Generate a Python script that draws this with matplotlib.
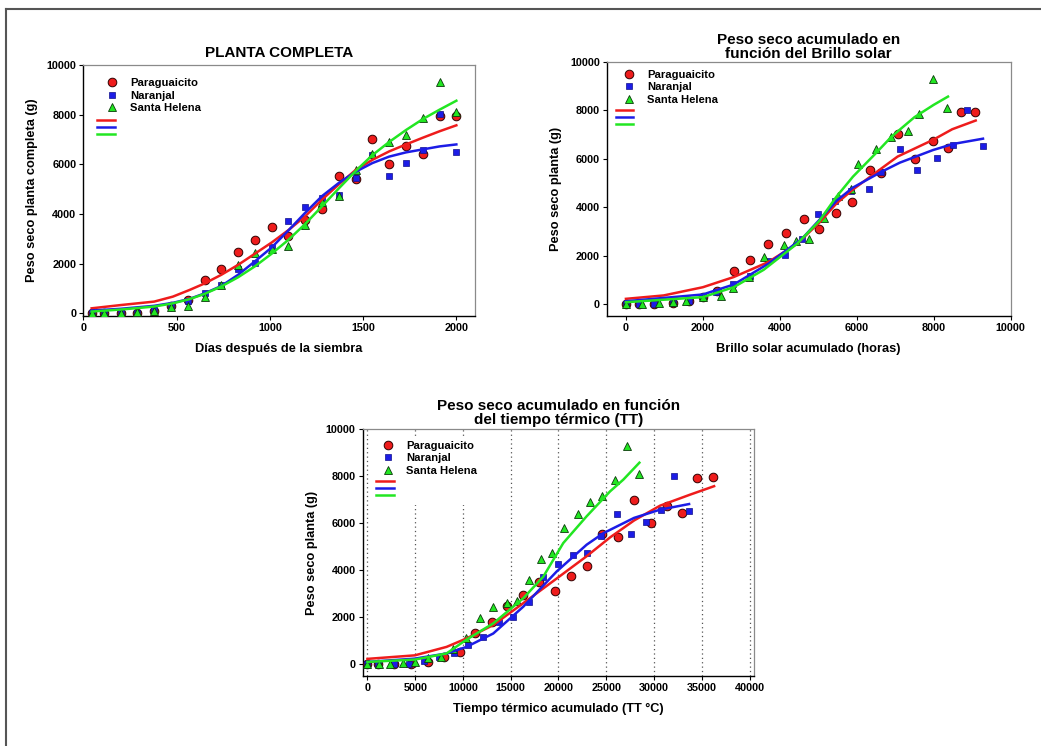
import numpy as np
import matplotlib
matplotlib.use('Agg')
from matplotlib import pyplot as plt
from matplotlib.lines import Line2D
from matplotlib.patches import Rectangle

plt.rcParams['font.family'] = ['Liberation Sans', 'DejaVu Sans']
plt.rcParams['font.weight'] = 'bold'

# Data section
names = ['Paraguaicito', 'Naranjal', 'Santa Helena']

# peso seco (g) per sampling, same measurements in the three panels
par_y = [0, 0, 10, 30, 100, 300, 520, 1350, 1800, 2480, 2950, 3490, 3100, 3750, 4200, 5540, 5420, 7010, 6000, 6750, 6430, 7930, 7950]
nar_y = [0, 0, 10, 30, 120, 300, 500, 810, 1150, 1780, 2020, 2670, 3730, 4270, 4660, 4750, 5460, 6390, 5530, 6040, 6560, 8020, 6510]
sh_y = [0, 0, 30, 70, 110, 270, 310, 650, 1120, 1950, 2430, 2590, 2700, 3570, 4470, 4740, 5780, 6400, 6910, 7160, 7860, 9300, 8110]

# dias despues de la siembra
days = [45, 110, 200, 290, 380, 470, 560, 650, 740, 830, 920, 1010, 1100, 1190, 1280, 1370, 1460, 1550, 1640, 1730, 1820, 1910, 2000]

# brillo solar acumulado (horas)
par_sol = [0, 330, 720, 1220, 1630, 2010, 2370, 2800, 3230, 3700, 4160, 4640, 5020, 5470, 5880, 6340, 6640, 7060, 7500, 7980, 8370, 8710, 9070]
nar_sol = [0, 330, 720, 1220, 1630, 2010, 2350, 2770, 3230, 3700, 4140, 4580, 4990, 5440, 5840, 6320, 6640, 7120, 7570, 8090, 8500, 8870, 9270]
sh_sol = [0, 420, 850, 1220, 1570, 1990, 2480, 2790, 3190, 3580, 4120, 4420, 4750, 5150, 5500, 5840, 6040, 6490, 6900, 7340, 7620, 7990, 8350]

# tiempo termico acumulado (TT C)
par_tt = [0, 1120, 2800, 4610, 6290, 8000, 9680, 11250, 12990, 14560, 16310, 17990, 19630, 21310, 22950, 24590, 26200, 27910, 29690, 31400, 32970, 34550, 36220]
nar_tt = [0, 1120, 2800, 4330, 5940, 7510, 9080, 10550, 12120, 13760, 15260, 16870, 18340, 19910, 21550, 22950, 24450, 26090, 27600, 29170, 30740, 32140, 33670]
sh_tt = [0, 1200, 2340, 3670, 4960, 6360, 7750, 9000, 10300, 11770, 13100, 14560, 15610, 16940, 18160, 19350, 20570, 22010, 23300, 24590, 25920, 27210, 28470]

# fitted curves
fit1_x = [45, 200, 380, 480, 570, 650, 740, 830, 920, 1010, 1100, 1190, 1280, 1370, 1460, 1550, 1640, 1730, 1820, 1910, 2000]
fit1_par = [200, 330, 470, 670, 940, 1200, 1550, 1950, 2400, 2850, 3350, 3910, 4580, 5190, 5770, 6180, 6520, 6800, 7070, 7330, 7570]
fit1_nar = [110, 180, 300, 420, 580, 800, 1100, 1550, 2090, 2650, 3340, 4050, 4720, 5250, 5700, 6050, 6310, 6480, 6600, 6720, 6800]
fit1_sh = [70, 150, 270, 400, 570, 780, 1080, 1450, 1890, 2400, 2960, 3600, 4310, 5030, 5730, 6370, 6900, 7380, 7820, 8200, 8560]

fit2_par_x = [0, 980, 2000, 2800, 3700, 4450, 5020, 5470, 5900, 6640, 7060, 7980, 8480, 9090]
fit2_par = [210, 350, 690, 1110, 1730, 2490, 3350, 4150, 4730, 5600, 6090, 6780, 7220, 7580]
fit2_nar_x = [0, 2000, 2800, 3700, 4580, 5020, 5470, 5900, 6640, 7120, 7980, 8500, 9280]
fit2_nar = [110, 390, 800, 1660, 2700, 3460, 4260, 4810, 5460, 5840, 6360, 6610, 6830]
fit2_sh_x = [0, 2000, 2800, 3580, 4450, 5020, 5470, 5900, 6490, 6900, 7500, 8000, 8370]
fit2_sh = [70, 280, 690, 1410, 2490, 3420, 4430, 5260, 6220, 6910, 7720, 8230, 8570]

fit3_par_x = [0, 4960, 8280, 10370, 13170, 16310, 19810, 22950, 25400, 27910, 30630, 33780, 36290]
fit3_par = [230, 380, 740, 1100, 1670, 2600, 3650, 4600, 5400, 6120, 6750, 7220, 7580]
fit3_nar_x = [0, 4960, 8280, 10370, 13170, 16310, 19810, 22950, 24700, 27910, 30630, 33670]
fit3_nar = [100, 240, 460, 740, 1310, 2450, 3950, 5090, 5580, 6230, 6580, 6820]
fit3_sh_x = [0, 4960, 8280, 10370, 13170, 16310, 18410, 20500, 22950, 25400, 26790, 28470]
fit3_sh = [100, 200, 460, 1050, 1740, 2810, 3730, 5160, 6300, 7360, 7860, 8580]

RED = '#ee1c1c'
BLUE = '#1c1ce6'
GREEN = '#22e622'
cols = [RED, BLUE, GREEN]
marks = [dict(marker='o', ms=6.2, mec='#300000', mew=0.7),
         dict(marker='s', ms=4.6, mec='#10108a', mew=0.5),
         dict(marker='^', ms=5.8, mec='#0a3a0a', mew=0.6)]

TICK_FS = 7.8
LAB_FS = 9.2
TITLE_FS = 11


def make_panel(ax, pts, fits, xlim, xticks, xlabel, ylabel, title, title_pad,
               leg_a, leg_b):
    for (x, y), c, m in zip(pts, cols, marks):
        ax.plot(x, y, ls='none', color=c, zorder=3, **m)
    for (x, y), c in zip(fits, cols):
        ax.plot(x, y, color=c, lw=1.8, zorder=4)
    ax.set_xlim(*xlim)
    ax.set_ylim(-500 if xlim[0] < 0 else -110, 10000)
    ax.set_xticks(xticks)
    ax.set_yticks(range(0, 10001, 2000))
    ax.tick_params(labelsize=TICK_FS, length=3, width=0.8, direction='out', pad=2)
    for lb in ax.get_xticklabels() + ax.get_yticklabels():
        lb.set_fontweight('bold')
    ax.set_xlabel(xlabel, fontsize=LAB_FS, fontweight='bold', labelpad=7)
    ax.set_ylabel(ylabel, fontsize=LAB_FS, fontweight='bold', labelpad=6)
    ax.set_title(title, fontsize=TITLE_FS, fontweight='bold', pad=title_pad, linespacing=1.0)
    for s in ['left', 'bottom']:
        ax.spines[s].set_color('black')
        ax.spines[s].set_linewidth(1.0)
    for s in ['top', 'right']:
        ax.spines[s].set_color('#8a8a8a')
        ax.spines[s].set_linewidth(0.9)

    hm = [Line2D([], [], ls='none', color=c, **m) for c, m in zip(cols, marks)]
    l1 = ax.legend(hm, names, loc='upper left', bbox_to_anchor=leg_a, frameon=False,
                   prop={'size': 8.1, 'weight': 'bold'}, handlelength=1.4,
                   handletextpad=0.9, labelspacing=0.22, borderpad=0, borderaxespad=0)
    ax.add_artist(l1)
    hl = [Line2D([], [], color=c, lw=1.8) for c in cols]
    ax.legend(hl, ['', '', ''], loc='upper left', bbox_to_anchor=leg_b, frameon=False,
              prop={'size': 4}, handlelength=3.2, handletextpad=0, labelspacing=0.35,
              borderpad=0, borderaxespad=0)


fig = plt.figure(figsize=(10.41, 7.46), dpi=100)

ax1 = fig.add_axes([0.080, 0.5764, 0.3763, 0.3365])
make_panel(ax1,
           [(days, par_y), (days, nar_y), (days, sh_y)],
           [(fit1_x, fit1_par), (fit1_x, fit1_nar), (fit1_x, fit1_sh)],
           (0, 2100), [0, 500, 1000, 1500, 2000],
           'Días después de la siembra', 'Peso seco planta completa (g)',
           'PLANTA COMPLETA', 6, (0.053, 0.948), (0.035, 0.789))

ax2 = fig.add_axes([0.5828, 0.5764, 0.3881, 0.3405])
make_panel(ax2,
           [(par_sol, par_y), (nar_sol, nar_y), (sh_sol, sh_y)],
           [(fit2_par_x, fit2_par), (fit2_nar_x, fit2_nar), (fit2_sh_x, fit2_sh)],
           (-500, 10000), range(0, 10001, 2000),
           'Brillo solar acumulado (horas)', 'Peso seco planta (g)',
           'Peso seco acumulado en\nfunción del Brillo solar', 3,
           (0.036, 0.969), (0.022, 0.820))

ax3 = fig.add_axes([0.3484, 0.0938, 0.3762, 0.3307])
ax3.grid(axis='x', ls=(0, (1, 2.5)), color='#555555', lw=0.9, zorder=1)
ax3.set_axisbelow(True)
ax3.add_patch(Rectangle((0.019, 0.693), 0.275, 0.276, transform=ax3.transAxes,
                        facecolor='white', edgecolor='none', zorder=1.5))
make_panel(ax3,
           [(par_tt, par_y), (nar_tt, nar_y), (sh_tt, sh_y)],
           [(fit3_par_x, fit3_par), (fit3_nar_x, fit3_nar), (fit3_sh_x, fit3_sh)],
           (-500, 40500), range(0, 40001, 5000),
           'Tiempo térmico acumulado (TT °C)', 'Peso seco planta (g)',
           'Peso seco acumulado en función\ndel tiempo térmico (TT)', 4,
           (0.044, 0.953), (0.034, 0.799))

# outer frame
fig.add_artist(Line2D([6 / 1041, 6 / 1041], [0, 1 - 9 / 746], transform=fig.transFigure,
                      color='#555555', lw=1.5))
fig.add_artist(Line2D([6 / 1041, 1], [1 - 9 / 746, 1 - 9 / 746], transform=fig.transFigure,
                      color='#555555', lw=1.5))

fig.savefig('out.png', dpi=100, facecolor='white')
